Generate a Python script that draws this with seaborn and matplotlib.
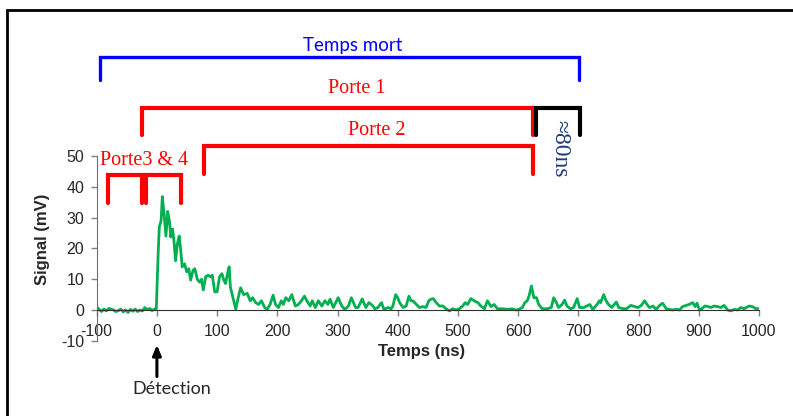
import matplotlib
matplotlib.use("Agg")
import matplotlib.pyplot as plt
import seaborn as sns
import pandas as pd
from matplotlib.patches import Rectangle

# signal trace (ns, mV)
temps_ns = [-100, -96, -92, -88, -84, -80, -76, -72, -68, -64, -60, -56, -52, -48, -44,
            -40, -36, -32, -28, -24, -20, -16, -12, -8, -4, -1,
            2, 4, 7, 9, 12, 15, 18, 21, 23, 26, 28.5, 31, 34, 37, 39.5, 42, 46, 49.5,
            53, 56, 60, 63, 67, 71, 74, 77, 81, 85, 89, 92, 96, 100, 104, 108, 111,
            114, 118, 120, 122, 126, 131, 135, 139, 144, 150, 155, 159, 164, 169,
            173.5, 179, 183, 188, 193, 197, 202, 206.5, 210, 214, 219, 224, 230, 235,
            240, 245, 249, 254.5, 258, 263, 268, 274, 279, 284, 287.5, 293, 301, 307,
            312, 318, 323, 330, 334, 341, 347, 352, 358, 362, 367, 373, 377, 384, 389,
            392, 396.5, 400, 403, 409, 414, 418.5, 422, 425, 431, 436, 442, 447, 451.5,
            455, 459, 464, 469, 475, 480, 486, 491, 497, 502, 508, 512, 516, 521.5,
            527, 533, 538, 544, 549, 555, 560, 565.5, 574, 582, 590, 596, 601, 607,
            611, 615, 618, 622, 626, 630.5, 634, 640, 648, 655, 659, 663.5, 667, 673,
            677, 681, 687, 692, 698, 702, 709, 714, 719, 724, 731, 735, 737, 742, 746,
            750, 755.5, 763, 767, 775, 780, 787, 793.5, 799, 804.5, 810, 814, 818,
            824, 829, 835, 840, 846, 851, 857, 862, 868, 873, 879, 884, 890, 894, 897,
            901, 905, 910, 916, 920, 926, 931, 937, 942, 948, 953, 959, 964, 970, 975,
            984, 989, 995, 998]
signal_mv = [1.0, 0.2, -0.5, 0.3, -0.3, 0.5, 0.3, 0.0, -0.5, -0.2, 0.3, -0.6, 0.0, -0.8, 0.2,
             -0.4, 0.3, -0.5, 0.0, -0.3, 0.8, 0.1, 0.5, -0.2, 0.3, 0.4,
             18, 27, 29, 36.8, 31, 24, 32, 28.5, 23.7, 26.3, 22, 16, 21.5, 24, 19.4, 14, 15, 12.4,
             13.4, 9.7, 12.9, 13.4, 10, 9, 10, 6.5, 10.8, 11.3, 10.8, 11.3, 5.9, 5.9, 10.8, 11.8, 9.7,
             8.6, 12.4, 14, 7.5, 4.3, 0.2, 4, 7.2, 5, 5.4, 3, 4, 2.4, 1.8,
             3, 0.8, 0.2, 1.8, 4.8, 1.8, 0.8, 3, 1.8, 4, 3, 5, 1.3, 1.8,
             3, 4.5, 3, 1.3, 3, 0.8, 3, 1.3, 3, 1.8, 3.5, 0.8, 4, 1.3,
             0.2, 1.3, 4, 0.8, 0.8, 3.6, 0.8, 2.4, 1.5, 0.4, 0.8, 2.4, 0.2, 0.8, 0.4,
             1.3, 5, 4, 2.4, 0.8, 1.3, 4.5, 3, 3, 1.8, 0.8, 1.1, 0.8, 3,
             3.5, 3.7, 2.4, 1.3, 1.3, 0.4, -0.3, 0.4, 0, 0.4, 1.3, 2.4, 1.8, 3.7,
             3, 2.4, 1.3, 0.4, 3, 1.1, 1.8, 0.4, 0.4, 0.2, 0.4, 0, 0.2, 0.8,
             2.4, 3, 4.5, 7.8, 4, 4, 1.8, 0.4, 0.4, 0.8, 4, 2.4, 0.8, 1.8,
             3.2, 1.3, 0.4, 0.8, 3.7, 0.8, 0.8, 1.3, 1.8, 0.2, 1.8, 3, 2.4, 5, 3,
             1.8, 0.8, 2.6, 0.8, 0.4, 0.4, 1.5, 1.1, 0.8, 1.5, 3, 1.8, 0.8,
             1.3, 0.2, 1.5, 2.2, 0.4, 0.2, 0, 0.2, 0, 1.1, 1.5, 1.8, 2.4, 1.1, 2.2,
             0, 0.4, 1.3, 1.1, 0.8, 1.3, 1.1, 0.8, 1.5, 0, -0.3, 0.2, 0, 0.8, 0.4,
             1.3, 1.1, 0.4, 0.5]

# gates (ns)
porte_noms = ["Porte 1", "Porte 2", "Porte3", "Porte4"]
porte_debut = [-24, 78, -82, -18]
porte_fin = [624, 624, -24, 40]
temps_mort = (-95, 701)
marge = (630, 703)

df = pd.DataFrame({"Temps (ns)": temps_ns, "Signal (mV)": signal_mv})

sns.set_style("white")
plt.rcParams["font.family"] = ["Liberation Sans", "DejaVu Sans"]
plt.rcParams["axes.unicode_minus"] = False

fig = plt.figure(figsize=(7.93, 4.16), dpi=100)
ax = fig.add_axes([96.7 / 793, 1 - 340.8 / 416, 662.3 / 793, 184.8 / 416])

sns.lineplot(data=df, x="Temps (ns)", y="Signal (mV)", color="#00B050", lw=2, ax=ax)

ax.set_xlim(-100, 1000)
ax.set_ylim(-10, 50)
ax.set_xticks(range(-100, 1001, 100))
ax.set_yticks(range(-10, 51, 10))
for s in ["top", "right"]:
    ax.spines[s].set_visible(False)
ax.spines["bottom"].set_position(("data", 0))
ax.spines["bottom"].set_color("#303030")
ax.spines["left"].set_color("#707070")
ax.tick_params(axis="both", direction="out", length=4, width=1, color="#808080",
               labelsize=11.5, pad=5, left=True, bottom=True)
ax.tick_params(axis="x", pad=6)
ax.set_xlabel("Temps (ns)", fontsize=12, fontweight="bold")
ax.set_ylabel("Signal (mV)", fontsize=12, fontweight="bold")
ax.xaxis.set_label_coords(0.49, -0.02)
ax.yaxis.set_label_coords(-0.07, 0.55)


def crochet(x0, x1, haut, bas, couleur, lw):
    ax.plot([x0, x0, x1, x1], [bas, haut, haut, bas], color=couleur, lw=lw,
            solid_joinstyle="miter", clip_on=False)


serif = ["Liberation Serif", "DejaVu Serif"]

# temps mort
crochet(temps_mort[0], temps_mort[1], 82, 74.7, "#0000FF", 2.4)
ax.text(325, 86, "Temps mort", color="#0000FF", fontsize=13.5, family=["Lato", "DejaVu Sans"],
        ha="center", va="center", clip_on=False)

# porte 1 + ~80 ns
crochet(porte_debut[0], porte_fin[0], 65.6, 56.8, "#FF0000", 3)
crochet(marge[0], marge[1], 65.6, 56.8, "black", 3)
ax.text(332, 72, porte_noms[0], color="#FF0000", fontsize=14.5, family=serif,
        ha="center", va="center")
ax.text(669, 52.5, "≈80ns", color="#1F3A7A", fontsize=17, family=serif, rotation=270,
        ha="center", va="center")

# porte 2
crochet(porte_debut[1], porte_fin[1], 53.3, 44.2, "#FF0000", 3)
ax.text(365, 58.4, porte_noms[1], color="#FF0000", fontsize=14.5, family=serif,
        ha="center", va="center")

# portes 3 & 4
crochet(porte_debut[2], porte_fin[2], 43.8, 34.7, "#FF0000", 3)
crochet(porte_debut[3], porte_fin[3], 43.8, 34.7, "#FF0000", 3)
ax.text(-22, 48.7, "Porte3 & 4", color="#FF0000", fontsize=14.5, family=serif,
        ha="center", va="center")

# detection arrow
ax.annotate("", xy=(0, -10.4), xytext=(0, -22.5), annotation_clip=False,
            arrowprops=dict(arrowstyle="-|>,head_width=0.25,head_length=0.6",
                            color="black", lw=2.2))
ax.text(25, -25.5, "Détection", fontsize=13, family=["Lato", "DejaVu Sans"],
        ha="center", va="center", clip_on=False)

# outer frame
fig.add_artist(Rectangle((7 / 793, -0.1), 1.2, 1 - 10 / 416 + 0.1, transform=fig.transFigure,
                         fill=False, ec="black", lw=2))

fig.savefig("out.png", dpi=100)
